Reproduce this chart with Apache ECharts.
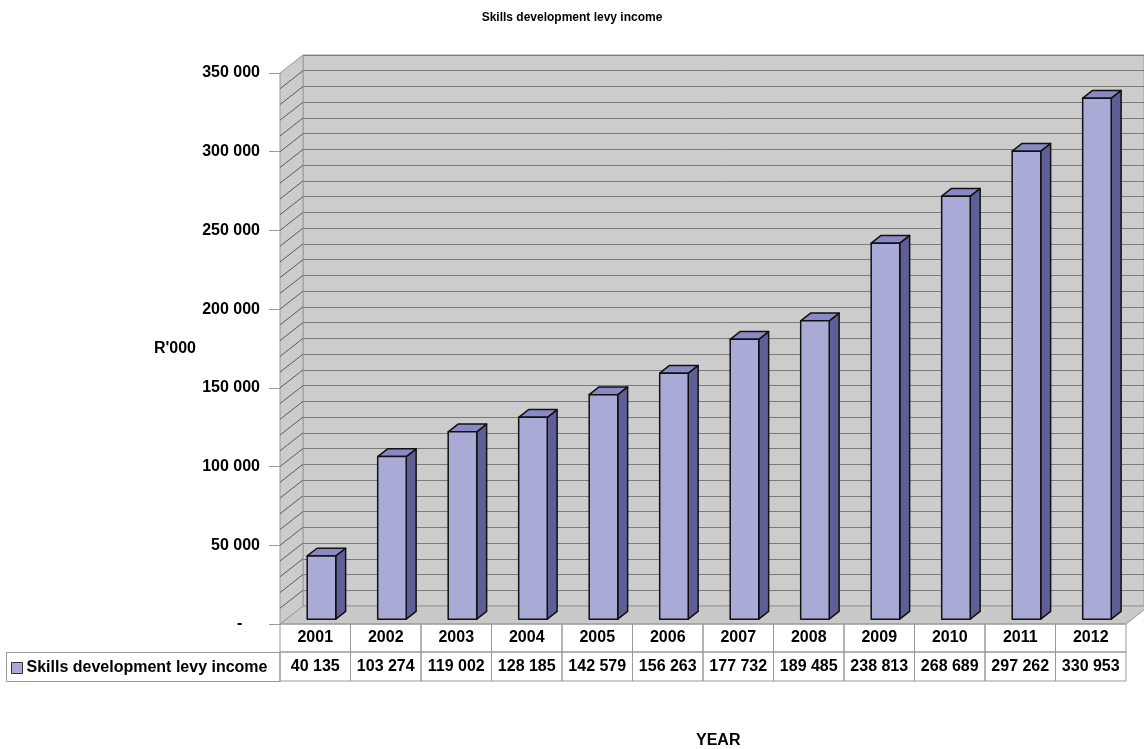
<!DOCTYPE html>
<html>
<head>
<meta charset="utf-8">
<script src="https://cdn.jsdelivr.net/npm/echarts@6/dist/echarts.min.js"></script>
<style>
  html, body { margin: 0; background: #fff; }
  #chart { width: 1144px; height: 749px; }
</style>
</head>
<body>
<div id="chart"></div>
<script>
const years = ['2001', '2002', '2003', '2004', '2005', '2006', '2007', '2008', '2009', '2010', '2011', '2012'];
const income = [40135, 103274, 119002, 128185, 142579, 156263, 177732, 189485, 238813, 268689, 297262, 330953];
const seriesName = 'Skills development levy income';
const yMax = 350000;

const FONT = '"Liberation Sans", Arial, sans-serif';
const DEPTH_X = 23, DEPTH_Y = -18;        // depth of the walls
const BAR_FRONT = 0.27, BAR_BACK = 0.70;  // where the bar sits inside that depth
const BAR_RATIO = 0.405;
const ROW1 = 28, ROW2 = 29;               // table rows

// 40135 -> "40 135", 0 -> "-"
const fmt = (v) => (v === 0 ? '-    ' : String(v).replace(/\B(?=(\d{3})+(?!\d))/g, ' '));

function renderBar(params, api) {
  const i = api.value(0);
  const v = api.value(1);
  const band = api.size([1, 0])[0];
  const base = api.coord([i, 0]);
  const top = api.coord([i, v]);
  const w = band * BAR_RATIO;
  const fx = DEPTH_X * BAR_FRONT, fy = DEPTH_Y * BAR_FRONT;
  const bx = DEPTH_X * (BAR_BACK - BAR_FRONT), by = DEPTH_Y * (BAR_BACK - BAR_FRONT);
  const x0 = base[0] - w / 2 + fx, x1 = x0 + w;
  const y0 = base[1] + fy, y1 = top[1] + fy;
  const line = { stroke: '#111', lineWidth: 1.5, lineJoin: 'round' };
  return {
    type: 'group',
    children: [
      { type: 'polygon', shape: { points: [[x1, y0], [x1 + bx, y0 + by], [x1 + bx, y1 + by], [x1, y1]] }, style: { fill: '#5f5f97', ...line } },
      { type: 'polygon', shape: { points: [[x0, y1], [x1, y1], [x1 + bx, y1 + by], [x0 + bx, y1 + by]] }, style: { fill: '#8a89c6', ...line } },
      { type: 'rect', shape: { x: x0, y: y1, width: w, height: y0 - y1 }, style: { fill: '#aaaad6', ...line } },
    ],
  };
}

// side wall + floor, from the front axis
function renderWalls(params, api) {
  const band = api.size([1, 0])[0];
  const left = api.coord([0, 0])[0] - band / 2;
  const right = api.coord([years.length - 1, 0])[0] + band / 2;
  const y0 = api.coord([0, 0])[1];
  const yTop = api.coord([0, yMax])[1];
  const children = [
    { type: 'polygon', shape: { points: [[left, y0], [left + DEPTH_X, y0 + DEPTH_Y], [right + DEPTH_X, y0 + DEPTH_Y], [right, y0]] },
      style: { fill: '#c9c9c9', stroke: '#999', lineWidth: 1 } },
    { type: 'polygon', shape: { points: [[left, yTop], [left + DEPTH_X, yTop + DEPTH_Y], [left + DEPTH_X, y0 + DEPTH_Y], [left, y0]] },
      style: { fill: '#cccccc', stroke: '#999', lineWidth: 1 } },
  ];
  for (let v = 10000; v < yMax; v += 10000) {
    const y = api.coord([0, v])[1];
    children.push({ type: 'line', shape: { x1: left, y1: y, x2: left + DEPTH_X, y2: y + DEPTH_Y }, style: { stroke: '#5a5a5a', lineWidth: 1 } });
  }
  return { type: 'group', children };
}

function renderCells(params, api) {
  const i = api.value(0);
  const band = api.size([1, 0])[0];
  const c = api.coord([i, 0]);
  const x = c[0] - band / 2;
  const style = { fill: 'none', stroke: '#999', lineWidth: 1 };
  return {
    type: 'group',
    children: [
      { type: 'rect', shape: { x, y: c[1], width: band, height: ROW1 }, style },
      { type: 'rect', shape: { x, y: c[1] + ROW1, width: band, height: ROW2 }, style },
    ],
  };
}

const chart = echarts.init(document.getElementById('chart'));
chart.setOption({
  animation: false,
  textStyle: { fontFamily: FONT },
  title: {
    text: 'Skills development levy income',
    left: 'center',
    top: 7,
    textStyle: { fontSize: 12, fontWeight: 'bold', color: '#000', fontFamily: FONT },
  },
  legend: {
    data: [seriesName],
    left: 6,
    top: 655,
    icon: 'rect',
    itemWidth: 11,
    itemHeight: 11,
    itemGap: 4,
    itemStyle: { borderColor: '#333', borderWidth: 1 },
    textStyle: { fontSize: 16, fontWeight: 'bold', color: '#000', fontFamily: FONT, padding: [0, 0, 0, -1] },
    selectedMode: false,
  },
  grid: [
    { left: 280, right: 18, top: 73, bottom: 125 },
    { left: 303, right: -5, top: 55, bottom: 143, show: true, backgroundColor: '#cccccc', borderColor: '#999', borderWidth: 1 },
  ],
  xAxis: [
    {
      type: 'category', gridIndex: 0, data: years,
      axisLine: { show: false }, axisTick: { show: false },
      axisLabel: { interval: 0, margin: 14, verticalAlign: 'middle', fontSize: 16, fontWeight: 'bold', color: '#000' },
    },
    {
      type: 'category', gridIndex: 0, data: years, position: 'bottom', offset: ROW1 + 1,
      axisLine: { show: false }, axisTick: { show: false },
      axisLabel: { interval: 0, margin: 14, verticalAlign: 'middle', fontSize: 16, fontWeight: 'bold', color: '#000',
        formatter: (val, idx) => fmt(income[idx]) },
    },
    { type: 'value', gridIndex: 1, min: 0, max: 1, show: false },
  ],
  yAxis: [
    {
      type: 'value', gridIndex: 0, min: 0, max: yMax, interval: 50000,
      name: "R'000", nameLocation: 'middle', nameRotate: 0, nameGap: 84,
      nameTextStyle: { fontSize: 16, fontWeight: 'bold', color: '#000', align: 'right' },
      axisLine: { show: true, lineStyle: { color: '#999', width: 1 } },
      axisTick: { show: true, length: 11, lineStyle: { color: '#999' } },
      axisLabel: { margin: 20, fontSize: 16, fontWeight: 'bold', color: '#000', formatter: fmt },
      splitLine: { show: false },
    },
    {
      type: 'value', gridIndex: 1, min: 0, max: yMax, interval: 10000,
      axisLine: { show: false }, axisTick: { show: false }, axisLabel: { show: false },
      splitLine: { show: true, lineStyle: { color: '#7a7a7a', width: 1 } },
    },
  ],
  graphic: [
    { type: 'rect', shape: { x: 6.5, y: 652.5, width: 273.5, height: ROW2 }, style: { fill: 'none', stroke: '#999', lineWidth: 1 } },
    { type: 'text', left: 696, top: 733, style: { text: 'YEAR', font: 'bold 16px ' + FONT, fill: '#000' } },
  ],
  series: [
    {
      type: 'custom', name: 'walls', xAxisIndex: 0, yAxisIndex: 0, z: 1,
      renderItem: renderWalls, data: [[0, 0]], silent: true,
    },
    {
      type: 'custom', name: 'table', xAxisIndex: 0, yAxisIndex: 0, z: 2,
      renderItem: renderCells, data: years.map((y, i) => [i, 0]), silent: true,
    },
    {
      type: 'custom', name: seriesName, xAxisIndex: 0, yAxisIndex: 0, z: 3,
      itemStyle: { color: '#aaaad6' },
      encode: { x: 0, y: 1 },
      renderItem: renderBar,
      data: income.map((v, i) => [i, v]),
    },
  ],
});
</script>
</body>
</html>
